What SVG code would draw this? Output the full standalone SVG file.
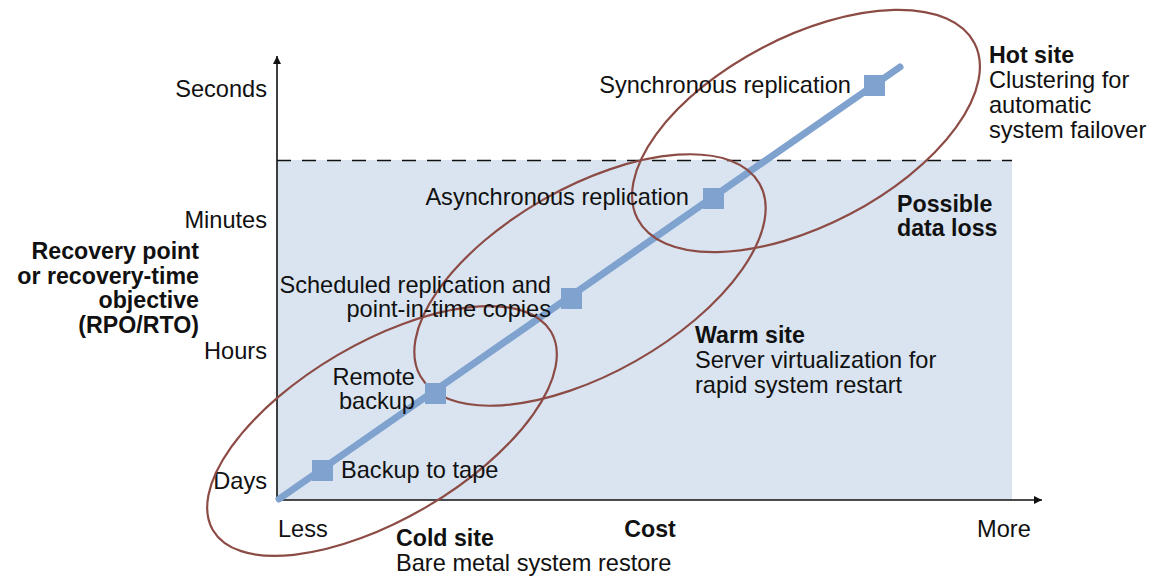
<svg xmlns="http://www.w3.org/2000/svg" width="1151" height="578" viewBox="0 0 1151 578">
<defs>
<style>
text{font-family:"Liberation Sans",Arial,sans-serif;font-size:23.6px;fill:#111}
.b{font-weight:bold;font-size:23.2px}
.e{text-anchor:end}
.m{text-anchor:middle}
.ax{stroke:#111;stroke-width:1.6;fill:none}
.ell{fill:none;stroke:#8c4b44;stroke-width:2.2}
.sq{fill:#7fa2cf}
</style>
<marker id="arr" viewBox="0 0 10 10" refX="10" refY="5" markerWidth="14" markerHeight="8" markerUnits="userSpaceOnUse" orient="auto">
<path d="M0,0 L10,5 L0,10 z" fill="#111"/>
</marker>
</defs>
<rect width="1151" height="578" fill="#fff"/>
<g id="data-loss-zone">
<rect x="277" y="160" width="735" height="340" fill="#d9e4f0"/>
<line x1="277" y1="160.5" x2="1012" y2="160.5" stroke="#111" stroke-width="1.6" stroke-dasharray="14 11"/>
</g>
<g id="axes">
<line class="ax" x1="277" y1="500" x2="277" y2="56" marker-end="url(#arr)"/>
<line class="ax" x1="277" y1="500" x2="1042" y2="500" marker-end="url(#arr)"/>
<text class="e" x="267" y="97">Seconds</text>
<text class="e" x="267" y="228">Minutes</text>
<text class="e" x="267" y="359">Hours</text>
<text class="e" x="267" y="489">Days</text>
<text x="278" y="537">Less</text>
<text class="b m" x="650" y="537">Cost</text>
<text x="977" y="537">More</text>
<text class="b e" x="199" y="259">Recovery point</text>
<text class="b e" x="199" y="283.5">or recovery-time</text>
<text class="b e" x="199" y="308">objective</text>
<text class="b e" x="199" y="332.5">(RPO/RTO)</text>
</g>
<g id="connectors">
<line x1="279" y1="499" x2="900" y2="67" stroke="#7fa2cf" stroke-width="7" stroke-linecap="round"/>
</g>
<g id="cold-site">
<ellipse class="ell" cx="382" cy="431" rx="196" ry="88" transform="rotate(-30.4 382 431)"/>
<text class="b" x="396" y="546">Cold site</text>
<text x="396" y="571">Bare metal system restore</text>
</g>
<g id="warm-site">
<ellipse class="ell" cx="590" cy="280" rx="195" ry="93" transform="rotate(-29.6 590 280)"/>
<text class="b" x="695" y="343">Warm site</text>
<text x="695" y="368">Server virtualization for</text>
<text x="695" y="393">rapid system restart</text>
</g>
<g id="hot-site">
<ellipse class="ell" cx="806" cy="131" rx="190" ry="94" transform="rotate(-27.6 806 131)"/>
<text class="b" x="989" y="63">Hot site</text>
<text x="989" y="88">Clustering for</text>
<text x="989" y="113">automatic</text>
<text x="989" y="138">system failover</text>
</g>
<g id="possible-data-loss">
<text class="b" x="897" y="212">Possible</text>
<text class="b" x="897" y="236">data loss</text>
</g>
<g id="backup-to-tape">
<rect class="sq" x="312" y="460" width="21" height="21"/>
<text x="341" y="478">Backup to tape</text>
</g>
<g id="remote-backup">
<rect class="sq" x="425" y="383" width="21" height="21"/>
<text class="e" x="415" y="384.5">Remote</text>
<text class="e" x="415" y="409">backup</text>
</g>
<g id="scheduled-replication">
<rect class="sq" x="561" y="288" width="21" height="21"/>
<text class="e" x="551" y="292.5">Scheduled replication and</text>
<text class="e" x="551" y="317">point-in-time copies</text>
</g>
<g id="async-replication">
<rect class="sq" x="703" y="188" width="21" height="21"/>
<text class="e" x="689" y="205">Asynchronous replication</text>
</g>
<g id="sync-replication">
<rect class="sq" x="864" y="75" width="21" height="21"/>
<text class="e" x="851" y="93">Synchronous replication</text>
</g>
</svg>
